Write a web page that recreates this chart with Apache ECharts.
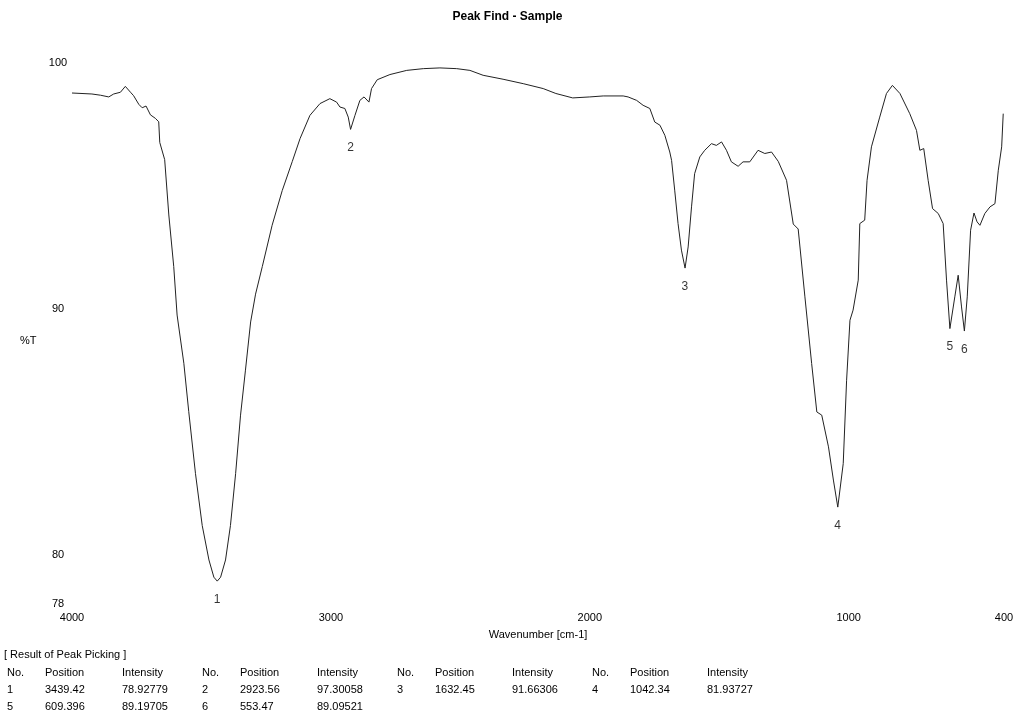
<!DOCTYPE html>
<html lang="en">
<head>
<meta charset="UTF-8">
<title>Peak Find - Sample</title>
<style>
    html, body { margin: 0; padding: 0; background: #fff; }
    #chart { width: 1015px; height: 720px; }
</style>
<script src="https://cdn.jsdelivr.net/npm/echarts@6/dist/echarts.min.js"></script>
</head>
<body>
<div id="chart"></div>
<script>
// IR spectrum, values
var wavenumber = [4000, 3923, 3890, 3858, 3839, 3813, 3794, 3774, 3762, 3742, 3729, 3714, 3697, 3678, 3665, 3661, 3642, 3626, 3607, 3594,
    3568, 3549, 3523, 3497, 3471, 3452, 3439, 3426, 3407, 3388, 3368, 3349, 3330, 3310, 3291, 3265, 3227, 3188, 3149, 3119,
    3081, 3042, 3004, 2978, 2965, 2946, 2933, 2924, 2907, 2888, 2872, 2853, 2843, 2821, 2772, 2707, 2643, 2579, 2514, 2463,
    2412, 2335, 2257, 2180, 2131, 2066, 2000, 1948, 1871, 1852, 1819, 1794, 1768, 1749, 1729, 1710, 1691, 1684, 1672, 1659,
    1646, 1632, 1620, 1607, 1595, 1575, 1556, 1530, 1511, 1491, 1472, 1453, 1427, 1408, 1382, 1350, 1324, 1298, 1272, 1240,
    1214, 1195, 1169, 1143, 1123, 1104, 1078, 1059, 1042, 1021, 1008, 995, 983, 963, 957, 938, 929, 912, 880, 854,
    831, 802, 764, 738, 725, 710, 693, 676, 654, 635, 622, 609, 590, 577, 564, 553, 542, 529, 516, 504,
    493, 474, 454, 435, 422, 409, 403];
var transmittance = [98.78, 98.74, 98.69, 98.62, 98.74, 98.81, 99.05, 98.81, 98.67, 98.32, 98.18, 98.25, 97.89, 97.75, 97.61, 96.77, 96.07, 93.82, 91.72, 89.75,
    87.79, 85.82, 83.30, 81.19, 79.79, 79.09, 78.93, 79.09, 79.79, 81.19, 83.30, 85.68, 87.51, 89.47, 90.60, 91.72, 93.40, 94.81, 96.00, 96.93,
    97.87, 98.35, 98.55, 98.41, 98.21, 98.15, 97.80, 97.30, 97.87, 98.48, 98.62, 98.41, 98.96, 99.32, 99.53, 99.70, 99.77, 99.80, 99.77, 99.70,
    99.50, 99.34, 99.16, 98.96, 98.76, 98.58, 98.62, 98.66, 98.66, 98.62, 98.48, 98.28, 98.15, 97.60, 97.47, 97.06, 96.38, 96.04, 94.83, 93.47,
    92.39, 91.66, 92.52, 94.15, 95.50, 96.18, 96.45, 96.72, 96.65, 96.79, 96.45, 95.98, 95.80, 95.98, 95.98, 96.45, 96.32, 96.38, 96.00, 95.23,
    93.45, 93.25, 90.49, 87.78, 85.81, 85.68, 84.39, 83.04, 81.94, 83.71, 87.10, 89.54, 89.95, 91.17, 93.47, 93.61, 95.23, 96.59, 97.80, 98.76,
    99.09, 98.76, 97.94, 97.26, 96.45, 96.52, 95.23, 94.08, 93.88, 93.47, 91.17, 89.20, 90.49, 91.37, 90.08, 89.10, 90.49, 93.20, 93.90, 93.54,
    93.40, 93.88, 94.15, 94.28, 95.64, 96.59, 97.94];

// peak picking result
var peakNo = ['1', '2', '3', '4', '5', '6'];
var peakPos = ['3439.42', '2923.56', '1632.45', '1042.34', '609.396', '553.47'];
var peakInt = ['78.92779', '97.30058', '91.66306', '81.93727', '89.19705', '89.09521'];

var xTicks = [4000, 3000, 2000, 1000, 400];
var yTicks = [100, 90, 80, 78];
var tableTitle = '[ Result of Peak Picking ]';
var tableHead = ['No.', 'Position', 'Intensity'];

var font = '"Liberation Sans", Arial, sans-serif';

var spectrum = wavenumber.map(function (w, i) { return [w, transmittance[i]]; });
var peaks = peakPos.map(function (p, i) { return [Number(p), Number(peakInt[i]), peakNo[i]]; });

// table under the chart, 4 peaks per row
function txt(x, y, s) {
    return {
        type: 'text', x: x, y: y,
        style: { text: s, fill: '#000', fontSize: 11, fontFamily: font, verticalAlign: 'middle' }
    };
}
var colX = [0, 38, 115];
var groupW = 195;
var table = [txt(4, 655, tableTitle)];
for (var g = 0; g < 4; g++) {
    for (var c = 0; c < 3; c++) table.push(txt(7 + g * groupW + colX[c], 673, tableHead[c]));
}
for (var i = 0; i < peakNo.length; i++) {
    var gx = 7 + (i % 4) * groupW;
    var gy = 690 + Math.floor(i / 4) * 17;
    table.push(txt(gx + colX[0], gy, peakNo[i]));
    table.push(txt(gx + colX[1], gy, peakPos[i]));
    table.push(txt(gx + colX[2], gy, peakInt[i]));
}
table.push(txt(20, 341, '%T'));

var myChart = echarts.init(document.getElementById('chart'));
var option = {
    animation: false,
    backgroundColor: '#fff',
    textStyle: { fontFamily: font },
    title: {
        text: 'Peak Find - Sample',
        left: 'center',
        top: 6,
        textStyle: { fontSize: 12, fontWeight: 'bold', color: '#000', fontFamily: font }
    },
    grid: { left: 72, right: 11, top: 63, bottom: 116, outerBoundsMode: 'none' },
    xAxis: {
        type: 'value',
        inverse: true,
        min: 400,
        max: 4000,
        name: 'Wavenumber [cm-1]',
        nameLocation: 'middle',
        nameGap: 25,
        nameTextStyle: { color: '#000', fontSize: 11, fontFamily: font },
        axisLine: { show: false },
        axisTick: { show: false },
        splitLine: { show: false },
        axisLabel: {
            customValues: xTicks, color: '#000', fontSize: 11, margin: 8, fontFamily: font,
            formatter: function (v) { return String(v); }
        }
    },
    yAxis: {
        type: 'value',
        min: 78,
        max: 100,
        axisLine: { show: false },
        axisTick: { show: false },
        splitLine: { show: false },
        axisLabel: { customValues: yTicks, color: '#000', fontSize: 11, margin: 14, align: 'center', fontFamily: font }
    },
    graphic: table,
    series: [
        {
            name: 'Sample',
            type: 'line',
            data: spectrum,
            showSymbol: false,
            lineStyle: { color: '#222', width: 1 },
            silent: true
        },
        {
            name: 'Peaks',
            type: 'scatter',
            data: peaks,
            symbolSize: 1,
            itemStyle: { color: 'rgba(0,0,0,0)' },
            label: {
                show: true,
                position: 'bottom',
                distance: 12,
                color: '#000',
                fontSize: 12,
                fontFamily: font,
                formatter: function (p) { return p.data[2]; }
            }
        }
    ]
};
myChart.setOption(option);
</script>
</body>
</html>
